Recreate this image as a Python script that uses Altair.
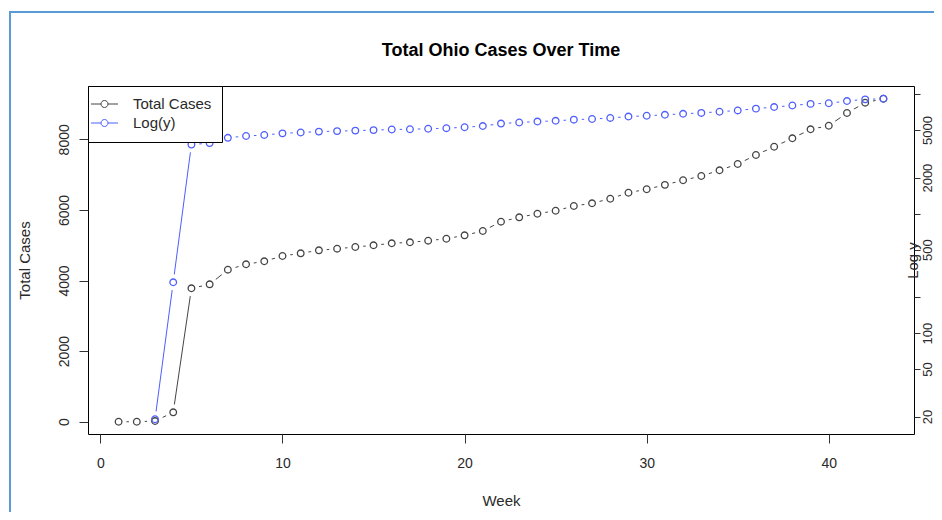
import altair as alt
import pandas as pd

# ---- data ----
weeks = list(range(1, 44))
total_cases = [0, 0, 19, 266, 3779, 3892, 4306, 4459, 4544, 4694, 4770, 4855, 4901,
               4949, 4997, 5054, 5082, 5128, 5184, 5280, 5402, 5666, 5790, 5892, 5977,
               6110, 6187, 6317, 6487, 6584, 6710, 6839, 6960, 7122, 7300, 7555, 7790,
               8028, 8283, 8385, 8745, 9037, 9150]
series_names = ["Total Cases", "Log(y)"]
series_colors = ["#444444", "#4d5dff"]
x_ticks = [0, 10, 20, 30, 40]
left_ticks = [0, 2000, 4000, 6000, 8000]
right_ticks = [20, 50, 100, 200, 500, 1000, 2000, 5000, 10000]
right_labels = [20, 50, 100, 500, 2000, 5000]

FONT = "Liberation Sans"
TXT = "#2a2a2a"
W, H = 826, 348

df = pd.DataFrame({"week": weeks, "cases": total_cases})
base = alt.Chart(df)
pos_only = base.transform_filter("datum.cases > 0")

x_enc = alt.X(
    "week:Q",
    scale=alt.Scale(domain=[-0.68, 44.68], nice=False, zero=False),
    axis=alt.Axis(orient="bottom", values=x_ticks, format="d", domain=False, grid=False,
                  tickSize=9, tickColor="#333", tickWidth=1, labelAngle=0,
                  labelFont=FONT, labelFontSize=14, labelColor=TXT, labelPadding=13,
                  labelFlush=False, labelOverlap=False,
                  title="Week", titleFont=FONT, titleFontSize=15, titleFontWeight="normal",
                  titleColor=TXT, titleY=66, titleX=W / 2, titleAlign="center",
                  titleBaseline="middle"),
)

lin_scale = alt.Scale(domain=[-348, 9510], nice=False, zero=False)
log_scale = alt.Scale(type="log", domain=[14.3, 11690], nice=False)

left_axis = alt.Axis(orient="left", values=left_ticks, format="d", domain=False, grid=False,
                     tickSize=9, tickColor="#333", tickWidth=1,
                     labelAngle=270, labelAlign="center", labelBaseline="bottom",
                     labelPadding=8, labelFont=FONT, labelFontSize=14, labelColor=TXT,
                     labelOverlap=False, labelFlush=False,
                     title="Total Cases", titleFont=FONT, titleFontSize=15,
                     titleFontWeight="normal", titleColor=TXT, titleAngle=270,
                     titleX=-64, titleY=H / 2, titleAlign="center", titleBaseline="middle")

label_list = ", ".join(str(v) for v in right_labels)
right_axis = alt.Axis(orient="right", values=right_ticks, format="d", domain=False, grid=False,
                      labelExpr=f"indexof([{label_list}], datum.value) >= 0 ? datum.label : ''",
                      tickSize=6, tickColor="#333", tickWidth=1,
                      labelAngle=270, labelAlign="center", labelBaseline="top",
                      labelPadding=1, labelFont=FONT, labelFontSize=13, labelColor=TXT,
                      labelOverlap=False, labelFlush=False,
                      title="Log y", titleFont=FONT, titleFontSize=15,
                      titleFontWeight="normal", titleColor=TXT, titleAngle=270,
                      titleX=-2, titleY=H / 2, titleAlign="center", titleBaseline="middle")

color_scale = alt.Scale(domain=series_names, range=series_colors)
legend_symbol = ("M-1.93,0H-0.5M0.5,0H1.93"
                 "M0.5,0A0.5,0.5,0,1,1,-0.5,0A0.5,0.5,0,1,1,0.5,0")
legend = alt.Legend(title=None, orient="none", legendX=0, legendY=0, direction="vertical",
                    strokeColor="black", fillColor="white", padding=10.5, rowPadding=3,
                    symbolType=legend_symbol, symbolSize=196, symbolStrokeWidth=1,
                    symbolOffset=-1.5, labelOffset=21, labelFont=FONT, labelFontSize=15,
                    labelColor=TXT)

MASK = 254
black_line = base.mark_line(color=series_colors[0], strokeWidth=1).encode(
    x=x_enc, y=alt.Y("cases:Q", scale=lin_scale, axis=left_axis))
blue_line = pos_only.mark_line(color=series_colors[1], strokeWidth=1).encode(
    x=x_enc, y=alt.Y("cases:Q", scale=log_scale, axis=None))
black_mask = base.mark_circle(color="white", opacity=1, size=MASK).encode(
    x=x_enc, y=alt.Y("cases:Q", scale=lin_scale, axis=None))
blue_mask = pos_only.mark_circle(color="white", opacity=1, size=MASK).encode(
    x=x_enc, y=alt.Y("cases:Q", scale=log_scale, axis=None))
black_pts = base.transform_calculate(series=f"'{series_names[0]}'").mark_point(
    shape="circle", filled=False, size=44, strokeWidth=1.3, opacity=1).encode(
    x=x_enc, y=alt.Y("cases:Q", scale=lin_scale, axis=None),
    color=alt.Color("series:N", scale=color_scale, legend=legend))
blue_pts = pos_only.transform_calculate(series=f"'{series_names[1]}'").mark_point(
    shape="circle", filled=False, size=44, strokeWidth=1.3, opacity=1).encode(
    x=x_enc, y=alt.Y("cases:Q", scale=log_scale, axis=right_axis),
    color=alt.Color("series:N", scale=color_scale, legend=legend))

# screenshot frame (blue border at top/left of the reference picture)
frame_df = pd.DataFrame({"k": [0]})
frame_top = alt.Chart(frame_df).mark_rule(color="#5b9bd5", strokeWidth=2).encode(
    x=alt.value(-79), x2=alt.value(846), y=alt.value(-74))
frame_left = alt.Chart(frame_df).mark_rule(color="#5b9bd5", strokeWidth=2).encode(
    x=alt.value(-78), y=alt.value(-74), y2=alt.value(426))

# the title sits above the bounds of all content (which begin at the frame line),
# so a negative offset brings it back down to its place above the plot box
chart = alt.layer(
    black_line, blue_line, black_mask, blue_mask, black_pts, blue_pts, frame_top, frame_left
).resolve_scale(y="independent").properties(
    width=W, height=H,
    padding={"left": 80, "top": 78, "right": 20, "bottom": 78},
    autosize=alt.AutoSizeParams(type="none"),
    title=alt.TitleParams("Total Ohio Cases Over Time", font=FONT, fontSize=18,
                          fontWeight="bold", color="black", anchor="middle",
                          frame="group", offset=-67, baseline="bottom"),
).configure_view(stroke="black", strokeWidth=1)

chart.save("out.html", embed_options={"renderer": "svg", "actions": False})
